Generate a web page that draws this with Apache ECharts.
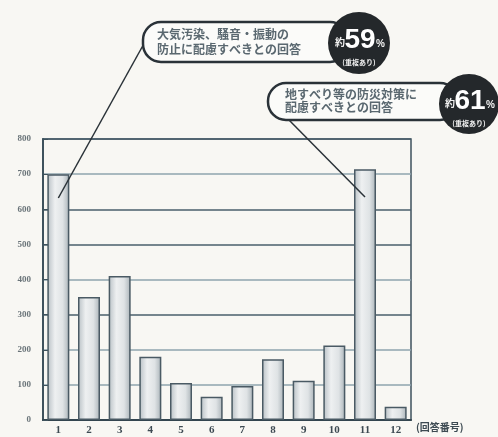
<!DOCTYPE html>
<html><head><meta charset="utf-8">
<script src="https://cdn.jsdelivr.net/npm/echarts@6/dist/echarts.min.js"></script>
<style>html,body{margin:0;padding:0;background:#f8f7f3}#c{width:498px;height:437px}</style>
</head><body><div id="c"></div>
<script>
const categories = ['1','2','3','4','5','6','7','8','9','10','11','12'];
const values = [700, 350, 410, 180, 105, 66, 97, 173, 112, 212, 714, 38];
const yTicks = [0,100,200,300,400,500,600,700,800];
const unitLabel = '(回答番号)';
const callout1Lines = ['大気汚染、騒音・振動の', '防止に配慮すべきとの回答'];
const callout1Pct = '59';
const callout2Lines = ['地すべり等の防災対策に', '配慮すべきとの回答'];
const callout2Pct = '61';
const dupNote = '(重複あり)';

const chart = echarts.init(document.getElementById('c'));
const splitCols = yTicks.map(v => (v===300||v===500||v===600||v===800) ? '#4a5f6b' : '#8fa4ae');
const serif = '"Liberation Serif","DejaVu Serif",serif';
const jp = '"Noto Sans CJK JP",sans-serif';

chart.setOption({
  backgroundColor: '#f8f7f3',
  animation: false,
  grid: {left: 43, right: 87, top: 139, bottom: 17, show: true, borderColor: '#3e525d', borderWidth: 1.5},
  xAxis: {
    type: 'category', data: categories, boundaryGap: true,
    axisLine: {lineStyle: {color: '#33454f', width: 2}},
    axisTick: {inside: true, length: 5, lineStyle: {color: '#2c3a42', width: 2}},
    axisLabel: {color: '#3d4a52', fontFamily: serif, fontSize: 11, fontWeight: 'bold', margin: 5}
  },
  yAxis: {
    type: 'value', min: 0, max: 800, interval: 100,
    axisLine: {show: true, lineStyle: {color: '#3e525d', width: 2}},
    axisTick: {show: true, inside: true, length: 5, lineStyle: {color: '#3e525d'}},
    axisLabel: {color: '#6a7479', fontFamily: serif, fontSize: 9, fontWeight: 'bold', margin: 12},
    splitLine: {show: true, lineStyle: {color: splitCols, width: 1.5}}
  },
  series: [{
    type: 'bar', data: values, barWidth: 22,
    itemStyle: {
      color: new echarts.graphic.LinearGradient(0,0,1,0,[
        {offset:0,color:'#b8c0c5'},{offset:0.35,color:'#eef0f1'},{offset:0.7,color:'#dfe3e5'},{offset:1,color:'#aab3b8'}]),
      borderColor: '#4a5a64', borderWidth: 1.5
    }
  }]
});

const p1 = chart.convertToPixel({seriesIndex:0}, [0, 632]);
const p2 = chart.convertToPixel({seriesIndex:0}, [10, 635]);

function callout(x, y, w, h, lines, tx, ty, lh, cx, cy, r, pct) {
  return [
    {type:'rect', shape:{x:x, y:y, width:w, height:h, r:18}, style:{fill:'#fbfbf9', stroke:'#2a3238', lineWidth:2.5}, z:10},
    {type:'text', x:tx, y:ty, style:{text:lines.join('\n'), fill:'#5a6870', font:'bold 12px '+jp, lineHeight:lh}, z:11},
    {type:'circle', shape:{cx:cx, cy:cy, r:r}, style:{fill:'#24282b'}, z:12},
    {type:'text', x:cx-24, y:cy-1, style:{text:'約', fill:'#f2f2f2', font:'bold 10px '+jp, verticalAlign:'middle'}, z:13},
    {type:'text', x:cx+1, y:cy-3, style:{text:pct, fill:'#ffffff', font:'bold 28px "Liberation Sans Narrow","Liberation Sans",sans-serif', align:'center', verticalAlign:'middle'}, z:13},
    {type:'text', x:cx+17, y:cy+1, style:{text:'%', fill:'#f2f2f2', font:'bold 10px sans-serif', verticalAlign:'middle'}, z:13},
    {type:'text', x:cx, y:cy+19, style:{text:dupNote, fill:'#f2f2f2', font:'bold 7px '+jp, align:'center', verticalAlign:'middle'}, z:13}
  ];
}

chart.setOption({graphic: [
  {type:'line', shape:{x1:146, y1:40, x2:p1[0], y2:p1[1]}, style:{stroke:'#2a3238', lineWidth:1.5}, z:9},
  {type:'line', shape:{x1:287, y1:118, x2:p2[0], y2:p2[1]}, style:{stroke:'#2a3238', lineWidth:1.5}, z:9},
  ...callout(143, 22, 205, 40, callout1Lines, 157, 27, 15, 359, 43, 31, callout1Pct),
  ...callout(268, 83, 190, 37, callout2Lines, 285, 88, 13, 469, 104, 30, callout2Pct),
  {type:'text', x:416, y:427, style:{text:unitLabel, fill:'#3d4a52', font:'bold 10px '+jp, verticalAlign:'middle'}}
]});
</script></body></html>
